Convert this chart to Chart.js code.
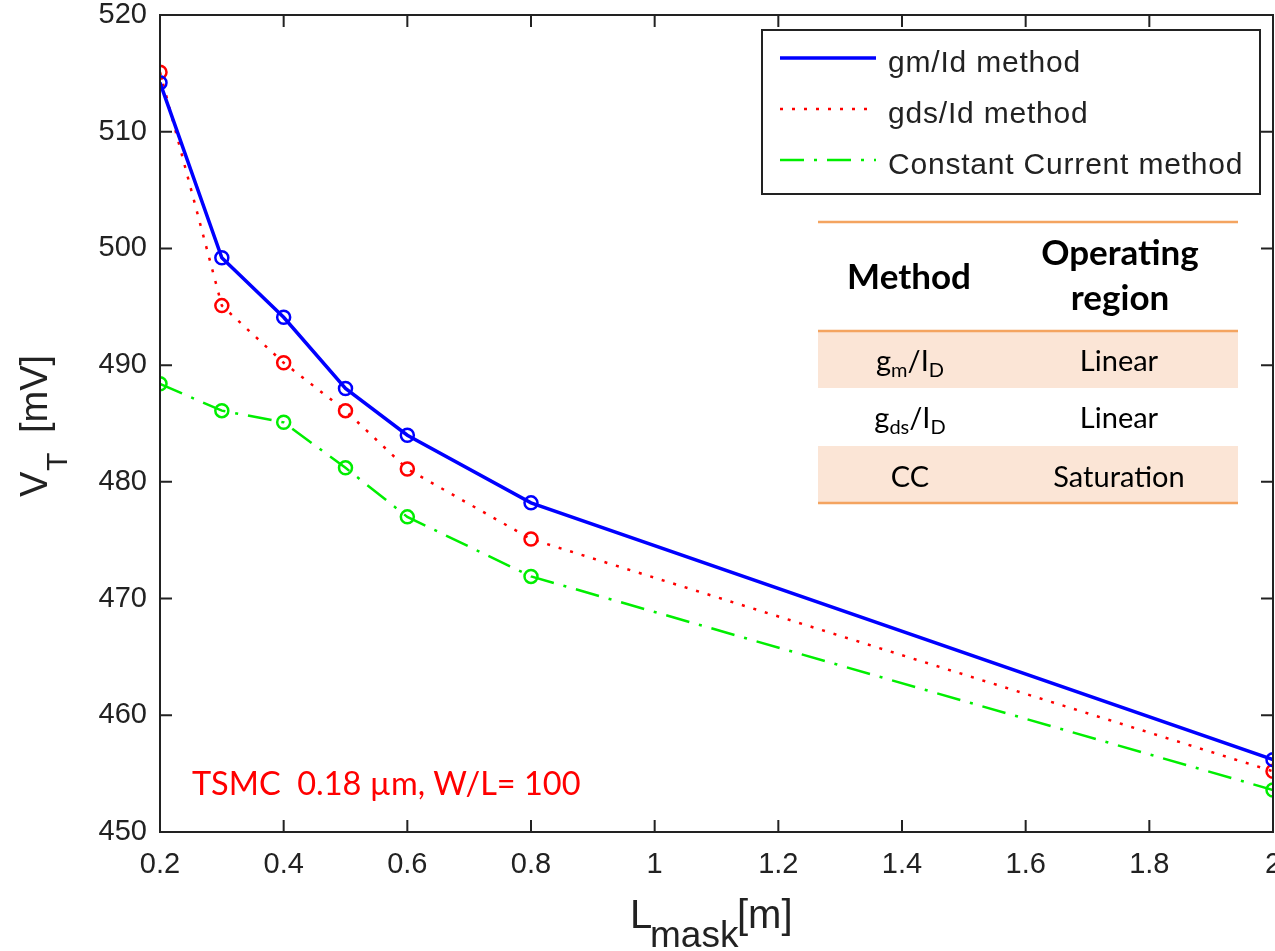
<!DOCTYPE html>
<html><head><meta charset="utf-8">
<script src="https://cdn.jsdelivr.net/npm/chart.js@4.4.1/dist/chart.umd.min.js"></script>
<style>html,body{margin:0;padding:0;background:#fff;overflow:hidden}canvas{display:block}</style>
</head><body>
<canvas id="c" width="1275" height="951"></canvas>
<script>
// ---- data ----
const lengths = [0.2, 0.3, 0.4, 0.5, 0.6, 0.8, 2];
const gmIdVT  = [514.2, 499.2, 494.1, 488.0, 484.0, 478.2, 456.2];
const gdsIdVT = [515.1, 495.1, 490.2, 486.1, 481.1, 475.1, 455.2];
const ccVT    = [488.4, 486.1, 485.1, 481.2, 477.0, 471.9, 453.6];
const xTickValues = [0.2, 0.4, 0.6, 0.8, 1, 1.2, 1.4, 1.6, 1.8, 2];
const xTickLabels = ['0.2', '0.4', '0.6', '0.8', '1', '1.2', '1.4', '1.6', '1.8', '2'];
const yTickValues = [450, 460, 470, 480, 490, 500, 510, 520];
const yTickLabels = ['450', '460', '470', '480', '490', '500', '510', '520'];
const seriesNames = ['gm/Id method', 'gds/Id method', 'Constant Current method'];
const tableHeader = [['Method'], ['Operating', 'region']];
const tableMethods = [[['g',0],['m',1],['/I',0],['D',1]], [['g',0],['ds',1],['/I',0],['D',1]], [['CC',0]]];
const tableRegions = ['Linear', 'Linear', 'Saturation'];
const noteText = 'TSMC  0.18 \u00b5m, W/L= 100';

const AXIS_FONT = '"Liberation Sans", Arial, sans-serif';
const TABLE_FONT = 'Lato, "Open Sans", sans-serif';
const INK = '#222222';

function drawRuns(ctx, runs, cx, baseY, size, family, weight, align) {
  const parts = runs.map(([t, s]) => ({ t, s, f: `${weight} ${s ? Math.round(size * 0.68) : size}px ${family}` }));
  let w = 0;
  parts.forEach(p => { ctx.font = p.f; p.w = ctx.measureText(p.t).width; w += p.w; });
  let x = align === 'left' ? cx : cx - w / 2;
  ctx.textAlign = 'left';
  ctx.textBaseline = 'alphabetic';
  parts.forEach(p => { ctx.font = p.f; ctx.fillText(p.t, x, baseY + (p.s ? size * 0.22 : 0)); x += p.w; });
}

const decor = {
  id: 'decor',
  beforeDatasetsDraw(chart) {
    const { ctx } = chart;
    ctx.save();
    ctx.fillStyle = '#fbe5d6';
    ctx.fillRect(818, 331, 420, 57);
    ctx.fillRect(818, 446, 420, 57);
    ctx.restore();
  },
  afterDatasetsDraw(chart) {
    const { ctx, chartArea: a, scales: { x, y } } = chart;
    ctx.save();
    // axes box
    ctx.strokeStyle = INK; ctx.lineWidth = 2;
    ctx.strokeRect(a.left, a.top, a.right - a.left, a.bottom - a.top);
    // inward ticks on all four sides
    const tl = 12;
    ctx.beginPath();
    xTickValues.forEach(v => {
      const px = x.getPixelForValue(v);
      ctx.moveTo(px, a.bottom); ctx.lineTo(px, a.bottom - tl);
      ctx.moveTo(px, a.top); ctx.lineTo(px, a.top + tl);
    });
    yTickValues.forEach(v => {
      const py = y.getPixelForValue(v);
      ctx.moveTo(a.left, py); ctx.lineTo(a.left + tl, py);
      ctx.moveTo(a.right, py); ctx.lineTo(a.right - tl, py);
    });
    ctx.stroke();

    // x tick labels
    ctx.fillStyle = INK;
    ctx.font = `normal 29px ${AXIS_FONT}`;
    ctx.textAlign = 'center'; ctx.textBaseline = 'middle';
    xTickValues.forEach((v, i) => ctx.fillText(xTickLabels[i], x.getPixelForValue(v), a.bottom + 33));

    // axis titles
    ctx.textAlign = 'left'; ctx.textBaseline = 'alphabetic';
    ctx.font = `normal 40px ${AXIS_FONT}`; ctx.fillText('L', 630, 928);
    ctx.font = `normal 37px ${AXIS_FONT}`; ctx.fillText('mask', 650, 947);
    ctx.font = `normal 40px ${AXIS_FONT}`; ctx.fillText('[m]', 737, 928);

    ctx.save();
    ctx.translate(47, 497);
    ctx.rotate(-Math.PI / 2);
    ctx.textAlign = 'left'; ctx.textBaseline = 'alphabetic';
    ctx.font = `normal 38px ${AXIS_FONT}`; ctx.fillText('V', 0, 0);
    ctx.font = `normal 30px ${AXIS_FONT}`; ctx.fillText('T', 26, 20);
    ctx.font = `normal 38px ${AXIS_FONT}`; ctx.fillText('[mV]', 64, 0);
    ctx.restore();

    // legend
    const L = { left: 762, top: 30, right: 1260, bottom: 194 };
    ctx.fillStyle = '#ffffff';
    ctx.fillRect(L.left, L.top, L.right - L.left, L.bottom - L.top);
    ctx.strokeStyle = INK; ctx.lineWidth = 2;
    ctx.strokeRect(L.left, L.top, L.right - L.left, L.bottom - L.top);
    const rowsY = [62, 113, 164];
    chart.data.datasets.forEach((ds, i) => {
      ctx.save();
      ctx.strokeStyle = ds.borderColor; ctx.lineWidth = ds.borderWidth;
      ctx.setLineDash(ds.borderDash || []);
      ctx.beginPath(); ctx.moveTo(780, rowsY[i] - 4); ctx.lineTo(876, rowsY[i] - 4); ctx.stroke();
      ctx.restore();
      ctx.save();
      ctx.fillStyle = INK;
      ctx.font = `normal 30px ${AXIS_FONT}`;
      ctx.letterSpacing = '0.8px';
      ctx.textAlign = 'left'; ctx.textBaseline = 'middle';
      ctx.fillText(ds.label, 888, rowsY[i] + 2);
      ctx.restore();
    });

    // table lines
    ctx.strokeStyle = '#f4a460'; ctx.lineWidth = 2.5; ctx.setLineDash([]);
    [222, 331, 503].forEach(yy => { ctx.beginPath(); ctx.moveTo(818, yy); ctx.lineTo(1238, yy); ctx.stroke(); });
    ctx.fillStyle = '#000000';
    drawRuns(ctx, [[tableHeader[0][0], 0]], 909, 289, 35, TABLE_FONT, 'bold');
    drawRuns(ctx, [[tableHeader[1][0], 0]], 1120, 265, 35, TABLE_FONT, 'bold');
    drawRuns(ctx, [[tableHeader[1][1], 0]], 1120, 310, 35, TABLE_FONT, 'bold');
    const rowBase = [371, 428, 487];
    tableMethods.forEach((runs, i) => {
      drawRuns(ctx, runs, 910, rowBase[i], 29, TABLE_FONT, 'normal');
      drawRuns(ctx, [[tableRegions[i], 0]], 1119, rowBase[i], 29, TABLE_FONT, 'normal');
    });

    // note
    ctx.fillStyle = '#ff0000';
    drawRuns(ctx, [[noteText, 0]], 192, 795, 32.5, TABLE_FONT, 'normal', 'left');
    ctx.restore();
  }
};

const mk = (arr) => lengths.map((v, i) => ({ x: v, y: arr[i] }));
new Chart(document.getElementById('c'), {
  type: 'line',
  data: {
    datasets: [
      { label: seriesNames[0], data: mk(gmIdVT), borderColor: '#0000ff', borderWidth: 3.5,
        pointRadius: 6.5, pointBorderWidth: 2.5, pointBackgroundColor: 'rgba(0,0,0,0)', pointBorderColor: '#0000ff' },
      { label: seriesNames[1], data: mk(gdsIdVT), borderColor: '#ff0000', borderWidth: 2.5, borderDash: [3, 9],
        pointRadius: 6.5, pointBorderWidth: 2.5, pointBackgroundColor: 'rgba(0,0,0,0)', pointBorderColor: '#ff0000' },
      { label: seriesNames[2], data: mk(ccVT), borderColor: '#00ee00', borderWidth: 2.5, borderDash: [24, 10, 3, 10],
        pointRadius: 6.5, pointBorderWidth: 2.5, pointBackgroundColor: 'rgba(0,0,0,0)', pointBorderColor: '#00ee00' }
    ]
  },
  options: {
    responsive: false, animation: false, devicePixelRatio: 1,
    layout: { autoPadding: false, padding: { left: 0, top: 15, right: 2, bottom: 0 } },
    elements: { line: { tension: 0 } },
    plugins: { legend: { display: false }, tooltip: { enabled: false } },
    scales: {
      x: {
        type: 'linear', min: 0.2, max: 2,
        afterBuildTicks: s => { s.ticks = xTickValues.map(v => ({ value: v })); },
        afterFit: s => { s.height = 119; s.paddingLeft = 0; s.paddingRight = 0; },
        ticks: { display: false },
        grid: { display: false, drawTicks: false }, border: { display: false }
      },
      y: {
        type: 'linear', min: 450, max: 520,
        afterBuildTicks: s => { s.ticks = yTickValues.map(v => ({ value: v })); },
        afterFit: s => { s.width = 160; s.paddingTop = 0; s.paddingBottom = 0; },
        ticks: { callback: (v, i) => yTickLabels[i], padding: 13, autoSkip: false,
                 font: { family: AXIS_FONT, size: 29 }, color: INK },
        grid: { display: false, drawTicks: false }, border: { display: false }
      }
    }
  },
  plugins: [decor]
});
</script>
</body></html>
